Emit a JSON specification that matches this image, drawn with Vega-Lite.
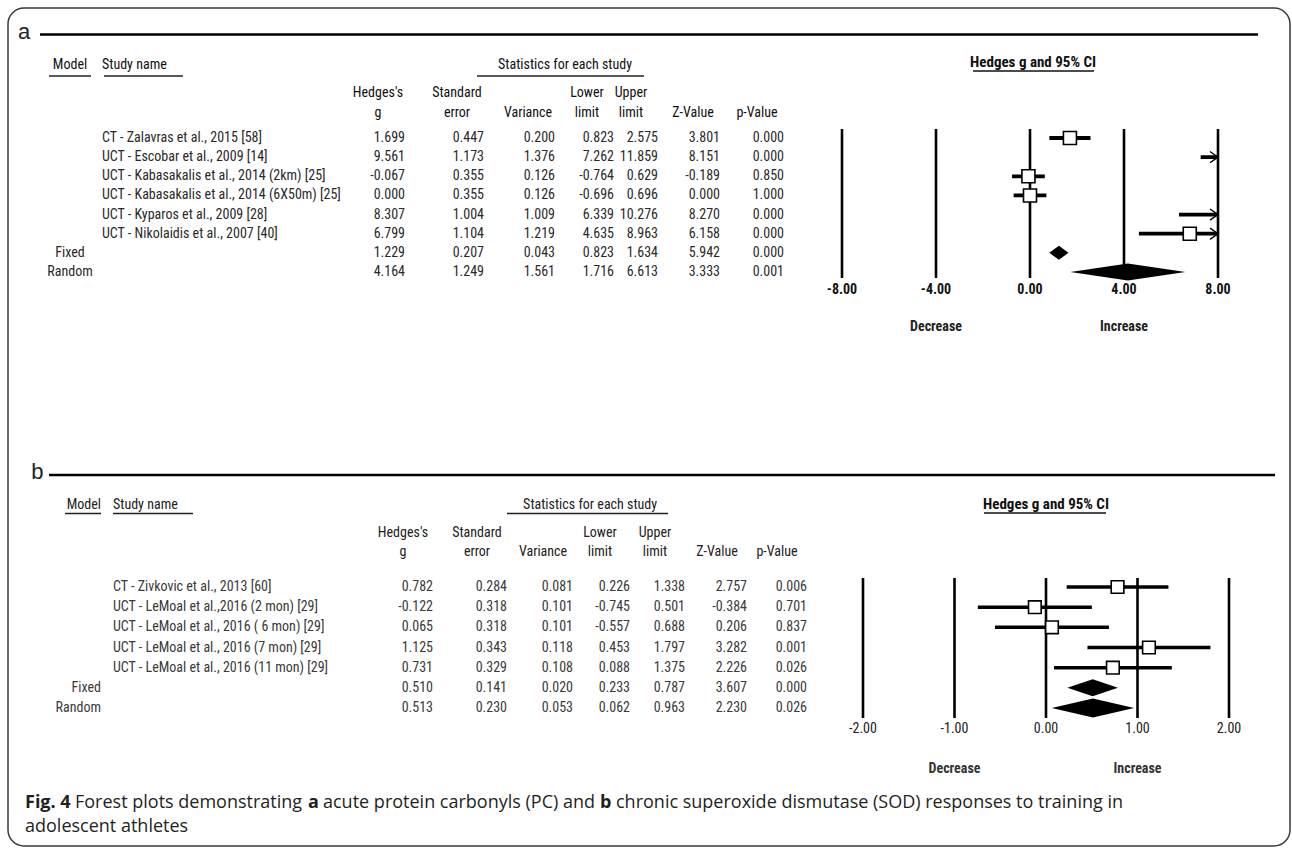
{
  "$schema": "https://vega.github.io/schema/vega-lite/v6.json",
  "width": 1282,
  "height": 838,
  "autosize": {"type": "none"},
  "padding": {"left": 8, "top": 8, "right": 2, "bottom": 2},
  "background": "white",
  "datasets": {
    "pcA": [
      {"row": 1, "model": "", "study": "CT - Zalavras et al., 2015 [58]", "g": 1.699, "se": 0.447, "var": 0.200, "lo": 0.823, "hi": 2.575, "z": 3.801, "p": 0.000},
      {"row": 2, "model": "", "study": "UCT - Escobar et al., 2009 [14]", "g": 9.561, "se": 1.173, "var": 1.376, "lo": 7.262, "hi": 11.859, "z": 8.151, "p": 0.000},
      {"row": 3, "model": "", "study": "UCT - Kabasakalis et al., 2014 (2km) [25]", "g": -0.067, "se": 0.355, "var": 0.126, "lo": -0.764, "hi": 0.629, "z": -0.189, "p": 0.850},
      {"row": 4, "model": "", "study": "UCT - Kabasakalis et al., 2014 (6X50m) [25]", "g": 0.000, "se": 0.355, "var": 0.126, "lo": -0.696, "hi": 0.696, "z": 0.000, "p": 1.000},
      {"row": 5, "model": "", "study": "UCT - Kyparos et al., 2009 [28]", "g": 8.307, "se": 1.004, "var": 1.009, "lo": 6.339, "hi": 10.276, "z": 8.270, "p": 0.000},
      {"row": 6, "model": "", "study": "UCT - Nikolaidis et al., 2007 [40]", "g": 6.799, "se": 1.104, "var": 1.219, "lo": 4.635, "hi": 8.963, "z": 6.158, "p": 0.000},
      {"row": 7, "model": "Fixed", "study": "", "g": 1.229, "se": 0.207, "var": 0.043, "lo": 0.823, "hi": 1.634, "z": 5.942, "p": 0.000},
      {"row": 8, "model": "Random", "study": "", "g": 4.164, "se": 1.249, "var": 1.561, "lo": 1.716, "hi": 6.613, "z": 3.333, "p": 0.001}
    ],
    "sodB": [
      {"row": 1, "model": "", "study": "CT - Zivkovic et al., 2013 [60]", "g": 0.782, "se": 0.284, "var": 0.081, "lo": 0.226, "hi": 1.338, "z": 2.757, "p": 0.006},
      {"row": 2, "model": "", "study": "UCT - LeMoal et al.,2016 (2 mon) [29]", "g": -0.122, "se": 0.318, "var": 0.101, "lo": -0.745, "hi": 0.501, "z": -0.384, "p": 0.701},
      {"row": 3, "model": "", "study": "UCT - LeMoal et al., 2016  ( 6 mon) [29]", "g": 0.065, "se": 0.318, "var": 0.101, "lo": -0.557, "hi": 0.688, "z": 0.206, "p": 0.837},
      {"row": 4, "model": "", "study": "UCT - LeMoal et al., 2016 (7 mon) [29]", "g": 1.125, "se": 0.343, "var": 0.118, "lo": 0.453, "hi": 1.797, "z": 3.282, "p": 0.001},
      {"row": 5, "model": "", "study": "UCT - LeMoal et al., 2016 (11 mon) [29]", "g": 0.731, "se": 0.329, "var": 0.108, "lo": 0.088, "hi": 1.375, "z": 2.226, "p": 0.026},
      {"row": 6, "model": "Fixed", "study": "", "g": 0.510, "se": 0.141, "var": 0.020, "lo": 0.233, "hi": 0.787, "z": 3.607, "p": 0.000},
      {"row": 7, "model": "Random", "study": "", "g": 0.513, "se": 0.230, "var": 0.053, "lo": 0.062, "hi": 0.963, "z": 2.230, "p": 0.026}
    ],
    "cols": [
      {"col": 1, "l1": "Hedges's", "l2": "g"},
      {"col": 2, "l1": "Standard", "l2": "error"},
      {"col": 3, "l1": "", "l2": "Variance"},
      {"col": 4, "l1": "Lower", "l2": "limit"},
      {"col": 5, "l1": "Upper", "l2": "limit"},
      {"col": 6, "l1": "", "l2": "Z-Value"},
      {"col": 7, "l1": "", "l2": "p-Value"}
    ],
    "ticksA": [{"v": -8}, {"v": -4}, {"v": 0}, {"v": 4}, {"v": 8}],
    "ticksB": [{"v": -2}, {"v": -1}, {"v": 0}, {"v": 1}, {"v": 2}],
    "one": [{}]
  },
  "layer": [
    {
      "data": {"name": "pcA"},
      "layer": [
        {"mark": {"type": "text", "align": "left", "baseline": "middle"},
         "encoding": {
           "x": {"datum": 0, "type": "quantitative", "scale": {"domain": [-1, 0, 1, 2, 3, 4, 5, 6, 7], "range": [62, 94, 397, 476, 547, 606, 650, 712, 776], "zero": false, "nice": false}, "axis": null},
           "y": {"field": "row", "type": "quantitative", "scale": {"domain": [1, 8], "range": [130, 264], "zero": false, "nice": false}, "axis": null},
           "text": {"field": "study"}}},
        {"mark": {"type": "text", "align": "center", "baseline": "middle"},
         "encoding": {"x": {"datum": -1, "type": "quantitative", "axis": null}, "y": {"field": "row", "type": "quantitative", "axis": null}, "text": {"field": "model"}}},
        {"mark": {"type": "text", "align": "right", "baseline": "middle"},
         "encoding": {"x": {"datum": 1, "type": "quantitative", "axis": null}, "y": {"field": "row", "type": "quantitative", "axis": null}, "text": {"field": "g", "type": "quantitative", "format": ".3f"}}},
        {"mark": {"type": "text", "align": "right", "baseline": "middle"},
         "encoding": {"x": {"datum": 2, "type": "quantitative", "axis": null}, "y": {"field": "row", "type": "quantitative", "axis": null}, "text": {"field": "se", "type": "quantitative", "format": ".3f"}}},
        {"mark": {"type": "text", "align": "right", "baseline": "middle"},
         "encoding": {"x": {"datum": 3, "type": "quantitative", "axis": null}, "y": {"field": "row", "type": "quantitative", "axis": null}, "text": {"field": "var", "type": "quantitative", "format": ".3f"}}},
        {"mark": {"type": "text", "align": "right", "baseline": "middle"},
         "encoding": {"x": {"datum": 4, "type": "quantitative", "axis": null}, "y": {"field": "row", "type": "quantitative", "axis": null}, "text": {"field": "lo", "type": "quantitative", "format": ".3f"}}},
        {"mark": {"type": "text", "align": "right", "baseline": "middle"},
         "encoding": {"x": {"datum": 5, "type": "quantitative", "axis": null}, "y": {"field": "row", "type": "quantitative", "axis": null}, "text": {"field": "hi", "type": "quantitative", "format": ".3f"}}},
        {"mark": {"type": "text", "align": "right", "baseline": "middle"},
         "encoding": {"x": {"datum": 6, "type": "quantitative", "axis": null}, "y": {"field": "row", "type": "quantitative", "axis": null}, "text": {"field": "z", "type": "quantitative", "format": ".3f"}}},
        {"mark": {"type": "text", "align": "right", "baseline": "middle"},
         "encoding": {"x": {"datum": 7, "type": "quantitative", "axis": null}, "y": {"field": "row", "type": "quantitative", "axis": null}, "text": {"field": "p", "type": "quantitative", "format": ".3f"}}},
        {"data": {"name": "cols"},
         "mark": {"type": "text", "align": "center", "baseline": "middle", "dx": -27, "color": "#111"},
         "encoding": {"x": {"field": "col", "type": "quantitative", "axis": null}, "y": {"datum": -1.351, "type": "quantitative", "axis": null}, "text": {"field": "l1"}}},
        {"data": {"name": "cols"},
         "mark": {"type": "text", "align": "center", "baseline": "middle", "dx": -27, "color": "#111"},
         "encoding": {"x": {"field": "col", "type": "quantitative", "axis": null}, "y": {"datum": -0.332, "type": "quantitative", "axis": null}, "text": {"field": "l2"}}},
        {"data": {"name": "one"},
         "mark": {"type": "text", "align": "center", "baseline": "middle", "color": "#111"},
         "encoding": {"x": {"datum": -1, "type": "quantitative", "axis": null}, "y": {"datum": -2.814, "type": "quantitative", "axis": null}, "text": {"value": "Model"}}},
        {"data": {"name": "one"},
         "mark": {"type": "text", "align": "left", "baseline": "middle", "color": "#111"},
         "encoding": {"x": {"datum": 0, "type": "quantitative", "axis": null}, "y": {"datum": -2.814, "type": "quantitative", "axis": null}, "text": {"value": "Study name"}}},
        {"data": {"name": "one"},
         "mark": {"type": "text", "align": "center", "baseline": "middle", "color": "#111"},
         "encoding": {"x": {"datum": 3.17, "type": "quantitative", "axis": null}, "y": {"datum": -2.814, "type": "quantitative", "axis": null}, "text": {"value": "Statistics for each study"}}},
        {"data": {"name": "one"},
         "mark": {"type": "rule", "strokeWidth": 1.4, "color": "#222"},
         "encoding": {"x": {"datum": -1.656, "type": "quantitative", "axis": null}, "x2": {"datum": -0.344}, "y": {"datum": -2.239, "type": "quantitative", "axis": null}}},
        {"data": {"name": "one"},
         "mark": {"type": "rule", "strokeWidth": 1.4, "color": "#222"},
         "encoding": {"x": {"datum": 0.0066, "type": "quantitative", "axis": null}, "x2": {"datum": 0.267}, "y": {"datum": -2.239, "type": "quantitative", "axis": null}}},
        {"data": {"name": "one"},
         "mark": {"type": "rule", "strokeWidth": 1.4, "color": "#222"},
         "encoding": {"x": {"datum": 1.911, "type": "quantitative", "axis": null}, "x2": {"datum": 4.682}, "y": {"datum": -2.239, "type": "quantitative", "axis": null}}}
      ]
    },
    {
      "data": {"name": "pcA"},
      "layer": [
        {"data": {"name": "ticksA"},
         "mark": {"type": "rule", "strokeWidth": 2.6, "color": "#000"},
         "encoding": {
           "x": {"field": "v", "type": "quantitative", "scale": {"domain": [-8, 8], "range": [834, 1210], "clamp": true, "zero": false, "nice": false}, "axis": null},
           "y": {"datum": 0.53, "type": "quantitative", "scale": {"domain": [1, 8], "range": [130, 264], "zero": false, "nice": false}, "axis": null},
           "y2": {"datum": 8.314}}},
        {"data": {"name": "ticksA"},
         "mark": {"type": "text", "align": "center", "baseline": "middle", "fontSize": 14, "fontWeight": "bold", "color": "#111"},
         "encoding": {
           "x": {"field": "v", "type": "quantitative", "axis": null},
           "y": {"datum": 8.915, "type": "quantitative", "axis": null},
           "text": {"field": "v", "type": "quantitative", "format": ".2f"}}},
        {"transform": [{"filter": "datum.model == ''"}],
         "mark": {"type": "rule", "strokeWidth": 3.8, "color": "#000"},
         "encoding": {"x": {"field": "lo", "type": "quantitative", "axis": null}, "x2": {"field": "hi"}, "y": {"field": "row", "type": "quantitative", "axis": null}}},
        {"transform": [{"filter": "datum.hi > 8"}],
         "mark": {"type": "point", "shape": "M-1,-0.7L0,0L-1,0.7", "filled": false, "color": "#000", "strokeWidth": 1.4, "size": 256, "opacity": 1},
         "encoding": {"x": {"field": "hi", "type": "quantitative", "axis": null}, "y": {"field": "row", "type": "quantitative", "axis": null}}},
        {"transform": [{"filter": "datum.model == '' && datum.g >= -8 && datum.g <= 8"}],
         "mark": {"type": "point", "shape": "square", "filled": true, "fill": "#fff", "stroke": "#000", "strokeWidth": 1.6, "size": 169, "opacity": 1},
         "encoding": {"x": {"field": "g", "type": "quantitative", "axis": null}, "y": {"field": "row", "type": "quantitative", "axis": null}}},
        {"transform": [{"filter": "datum.model != ''"}],
         "mark": {"type": "point", "filled": true, "color": "#000", "opacity": 1, "strokeWidth": 0},
         "encoding": {
           "x": {"field": "g", "type": "quantitative", "axis": null},
           "y": {"field": "row", "type": "quantitative", "axis": null},
           "size": {"field": "se", "type": "quantitative", "scale": {"type": "pow", "exponent": 2, "domain": [0, 1], "range": [0, 8486], "nice": false}, "legend": null},
           "shape": {"field": "model", "type": "nominal", "scale": {"domain": ["Fixed", "Random"], "range": ["M-1,0L0,-0.734L1,0L0,0.734Z", "M-1,0L0,-0.148L1,0L0,0.148Z"]}, "legend": null}}},
        {"data": {"name": "one"},
         "mark": {"type": "text", "align": "center", "baseline": "middle", "fontSize": 15, "fontWeight": "bold", "color": "#111"},
         "encoding": {"x": {"datum": 0.13, "type": "quantitative", "axis": null}, "y": {"datum": -2.97, "type": "quantitative", "axis": null}, "text": {"value": "Hedges g and 95% CI"}}},
        {"data": {"name": "one"},
         "mark": {"type": "rule", "strokeWidth": 1.4, "color": "#111"},
         "encoding": {"x": {"datum": -2.426, "type": "quantitative", "axis": null}, "x2": {"datum": 2.723}, "y": {"datum": -2.5, "type": "quantitative", "axis": null}}},
        {"data": {"name": "one"},
         "mark": {"type": "text", "align": "center", "baseline": "middle", "fontSize": 14, "fontWeight": "bold", "color": "#222"},
         "encoding": {"x": {"datum": -4, "type": "quantitative", "axis": null}, "y": {"datum": 10.874, "type": "quantitative", "axis": null}, "text": {"value": "Decrease"}}},
        {"data": {"name": "one"},
         "mark": {"type": "text", "align": "center", "baseline": "middle", "fontSize": 14, "fontWeight": "bold", "color": "#222"},
         "encoding": {"x": {"datum": 4, "type": "quantitative", "axis": null}, "y": {"datum": 10.874, "type": "quantitative", "axis": null}, "text": {"value": "Increase"}}}
      ]
    },
    {
      "data": {"name": "sodB"},
      "layer": [
        {"mark": {"type": "text", "align": "left", "baseline": "middle", "color": "#3a3a3a"},
         "encoding": {
           "x": {"datum": 0, "type": "quantitative", "scale": {"domain": [-1, 0, 1, 2, 3, 4, 5, 6, 7], "range": [93, 105, 425, 499, 565, 622, 677, 739, 799], "zero": false, "nice": false}, "axis": null},
           "y": {"field": "row", "type": "quantitative", "scale": {"domain": [1, 7], "range": [579, 700], "zero": false, "nice": false}, "axis": null},
           "text": {"field": "study"}}},
        {"mark": {"type": "text", "align": "right", "baseline": "middle", "color": "#3a3a3a"},
         "encoding": {"x": {"datum": -1, "type": "quantitative", "axis": null}, "y": {"field": "row", "type": "quantitative", "axis": null}, "text": {"field": "model"}}},
        {"mark": {"type": "text", "align": "right", "baseline": "middle", "color": "#3a3a3a"},
         "encoding": {"x": {"datum": 1, "type": "quantitative", "axis": null}, "y": {"field": "row", "type": "quantitative", "axis": null}, "text": {"field": "g", "type": "quantitative", "format": ".3f"}}},
        {"mark": {"type": "text", "align": "right", "baseline": "middle", "color": "#3a3a3a"},
         "encoding": {"x": {"datum": 2, "type": "quantitative", "axis": null}, "y": {"field": "row", "type": "quantitative", "axis": null}, "text": {"field": "se", "type": "quantitative", "format": ".3f"}}},
        {"mark": {"type": "text", "align": "right", "baseline": "middle", "color": "#3a3a3a"},
         "encoding": {"x": {"datum": 3, "type": "quantitative", "axis": null}, "y": {"field": "row", "type": "quantitative", "axis": null}, "text": {"field": "var", "type": "quantitative", "format": ".3f"}}},
        {"mark": {"type": "text", "align": "right", "baseline": "middle", "color": "#3a3a3a"},
         "encoding": {"x": {"datum": 4, "type": "quantitative", "axis": null}, "y": {"field": "row", "type": "quantitative", "axis": null}, "text": {"field": "lo", "type": "quantitative", "format": ".3f"}}},
        {"mark": {"type": "text", "align": "right", "baseline": "middle", "color": "#3a3a3a"},
         "encoding": {"x": {"datum": 5, "type": "quantitative", "axis": null}, "y": {"field": "row", "type": "quantitative", "axis": null}, "text": {"field": "hi", "type": "quantitative", "format": ".3f"}}},
        {"mark": {"type": "text", "align": "right", "baseline": "middle", "color": "#3a3a3a"},
         "encoding": {"x": {"datum": 6, "type": "quantitative", "axis": null}, "y": {"field": "row", "type": "quantitative", "axis": null}, "text": {"field": "z", "type": "quantitative", "format": ".3f"}}},
        {"mark": {"type": "text", "align": "right", "baseline": "middle", "color": "#3a3a3a"},
         "encoding": {"x": {"datum": 7, "type": "quantitative", "axis": null}, "y": {"field": "row", "type": "quantitative", "axis": null}, "text": {"field": "p", "type": "quantitative", "format": ".3f"}}},
        {"data": {"name": "cols"},
         "mark": {"type": "text", "align": "center", "baseline": "middle", "dx": -30, "color": "#222"},
         "encoding": {"x": {"field": "col", "type": "quantitative", "axis": null}, "y": {"datum": -1.678, "type": "quantitative", "axis": null}, "text": {"field": "l1"}}},
        {"data": {"name": "cols"},
         "mark": {"type": "text", "align": "center", "baseline": "middle", "dx": -30, "color": "#222"},
         "encoding": {"x": {"field": "col", "type": "quantitative", "axis": null}, "y": {"datum": -0.736, "type": "quantitative", "axis": null}, "text": {"field": "l2"}}},
        {"data": {"name": "one"},
         "mark": {"type": "text", "align": "right", "baseline": "middle", "color": "#222"},
         "encoding": {"x": {"datum": -1, "type": "quantitative", "axis": null}, "y": {"datum": -3.066, "type": "quantitative", "axis": null}, "text": {"value": "Model"}}},
        {"data": {"name": "one"},
         "mark": {"type": "text", "align": "left", "baseline": "middle", "color": "#222"},
         "encoding": {"x": {"datum": 0, "type": "quantitative", "axis": null}, "y": {"datum": -3.066, "type": "quantitative", "axis": null}, "text": {"value": "Study name"}}},
        {"data": {"name": "one"},
         "mark": {"type": "text", "align": "center", "baseline": "middle", "color": "#222"},
         "encoding": {"x": {"datum": 3.3, "type": "quantitative", "axis": null}, "y": {"datum": -3.066, "type": "quantitative", "axis": null}, "text": {"value": "Statistics for each study"}}},
        {"data": {"name": "one"},
         "mark": {"type": "rule", "strokeWidth": 1.4, "color": "#222"},
         "encoding": {"x": {"datum": -4.0, "type": "quantitative", "axis": null}, "x2": {"datum": -1}, "y": {"datum": -2.645, "type": "quantitative", "axis": null}}},
        {"data": {"name": "one"},
         "mark": {"type": "rule", "strokeWidth": 1.4, "color": "#222"},
         "encoding": {"x": {"datum": 0, "type": "quantitative", "axis": null}, "x2": {"datum": 0.25}, "y": {"datum": -2.645, "type": "quantitative", "axis": null}}},
        {"data": {"name": "one"},
         "mark": {"type": "rule", "strokeWidth": 1.4, "color": "#222"},
         "encoding": {"x": {"datum": 2.0, "type": "quantitative", "axis": null}, "x2": {"datum": 4.69}, "y": {"datum": -2.645, "type": "quantitative", "axis": null}}}
      ]
    },
    {
      "data": {"name": "sodB"},
      "layer": [
        {"data": {"name": "ticksB"},
         "mark": {"type": "rule", "strokeWidth": 2.6, "color": "#000"},
         "encoding": {
           "x": {"field": "v", "type": "quantitative", "scale": {"domain": [-2, 2], "range": [855, 1221], "clamp": true, "zero": false, "nice": false}, "axis": null},
           "y": {"datum": 0.554, "type": "quantitative", "scale": {"domain": [1, 7], "range": [579, 700], "zero": false, "nice": false}, "axis": null},
           "y2": {"datum": 7.496}}},
        {"data": {"name": "ticksB"},
         "mark": {"type": "text", "align": "center", "baseline": "middle", "fontSize": 14, "color": "#222"},
         "encoding": {
           "x": {"field": "v", "type": "quantitative", "axis": null},
           "y": {"datum": 8.041, "type": "quantitative", "axis": null},
           "text": {"field": "v", "type": "quantitative", "format": ".2f"}}},
        {"transform": [{"filter": "datum.model == ''"}],
         "mark": {"type": "rule", "strokeWidth": 3.5, "color": "#000"},
         "encoding": {"x": {"field": "lo", "type": "quantitative", "axis": null}, "x2": {"field": "hi"}, "y": {"field": "row", "type": "quantitative", "axis": null}}},
        {"transform": [{"filter": "datum.model == '' && datum.g >= -2 && datum.g <= 2"}],
         "mark": {"type": "point", "shape": "square", "filled": true, "fill": "#fff", "stroke": "#000", "strokeWidth": 1.6, "size": 160, "opacity": 1},
         "encoding": {"x": {"field": "g", "type": "quantitative", "axis": null}, "y": {"field": "row", "type": "quantitative", "axis": null}}},
        {"transform": [{"filter": "datum.model != ''"}],
         "mark": {"type": "point", "filled": true, "color": "#000", "opacity": 1, "strokeWidth": 0},
         "encoding": {
           "x": {"field": "g", "type": "quantitative", "axis": null},
           "y": {"field": "row", "type": "quantitative", "axis": null},
           "size": {"field": "se", "type": "quantitative", "scale": {"type": "pow", "exponent": 2, "domain": [0, 1], "range": [0, 128651], "nice": false}, "legend": null},
           "shape": {"field": "model", "type": "nominal", "scale": {"domain": ["Fixed", "Random"], "range": ["M-1,0L0,-0.336L1,0L0,0.336Z", "M-1,0L0,-0.23L1,0L0,0.23Z"]}, "legend": null}}},
        {"data": {"name": "one"},
         "mark": {"type": "text", "align": "center", "baseline": "middle", "fontSize": 15, "fontWeight": "bold", "color": "#111"},
         "encoding": {"x": {"datum": 0, "type": "quantitative", "axis": null}, "y": {"datum": -3.116, "type": "quantitative", "axis": null}, "text": {"value": "Hedges g and 95% CI"}}},
        {"data": {"name": "one"},
         "mark": {"type": "rule", "strokeWidth": 1.4, "color": "#111"},
         "encoding": {"x": {"datum": -0.678, "type": "quantitative", "axis": null}, "x2": {"datum": 0.656}, "y": {"datum": -2.669, "type": "quantitative", "axis": null}}},
        {"data": {"name": "one"},
         "mark": {"type": "text", "align": "center", "baseline": "middle", "fontSize": 14, "fontWeight": "bold", "color": "#333"},
         "encoding": {"x": {"datum": -1, "type": "quantitative", "axis": null}, "y": {"datum": 10.025, "type": "quantitative", "axis": null}, "text": {"value": "Decrease"}}},
        {"data": {"name": "one"},
         "mark": {"type": "text", "align": "center", "baseline": "middle", "fontSize": 14, "fontWeight": "bold", "color": "#333"},
         "encoding": {"x": {"datum": 1, "type": "quantitative", "axis": null}, "y": {"datum": 10.025, "type": "quantitative", "axis": null}, "text": {"value": "Increase"}}}
      ]
    },
    {
      "data": {"name": "one"},
      "layer": [
        {"mark": {"type": "text", "font": "Liberation Sans", "fontSize": 22, "align": "center", "baseline": "alphabetic", "color": "#222"},
         "encoding": {
           "x": {"datum": 0.0125, "type": "quantitative", "scale": {"domain": [0, 1], "range": [0, 1282], "zero": false, "nice": false}, "axis": null},
           "y": {"datum": 0.0364, "type": "quantitative", "scale": {"domain": [0, 1], "range": [0, 838], "zero": false, "nice": false}, "axis": null},
           "text": {"value": "a"}}},
        {"mark": {"type": "rule", "strokeWidth": 2.6, "color": "#000"},
         "encoding": {"x": {"datum": 0.02496, "type": "quantitative", "axis": null}, "x2": {"datum": 0.97504}, "y": {"datum": 0.03162, "type": "quantitative", "axis": null}}},
        {"mark": {"type": "text", "font": "Liberation Sans", "fontSize": 22, "align": "center", "baseline": "alphabetic", "color": "#222"},
         "encoding": {"x": {"datum": 0.02301, "type": "quantitative", "axis": null}, "y": {"datum": 0.56205, "type": "quantitative", "axis": null}, "text": {"value": "b"}}},
        {"mark": {"type": "rule", "strokeWidth": 2.6, "color": "#000"},
         "encoding": {"x": {"datum": 0.03198, "type": "quantitative", "axis": null}, "x2": {"datum": 0.9883}, "y": {"datum": 0.55728, "type": "quantitative", "axis": null}}},
        {"mark": {"type": "text", "font": "Open Sans", "fontSize": 18, "fontWeight": "bold", "align": "left", "baseline": "alphabetic", "color": "#231f20"},
         "encoding": {"x": {"datum": 0.01326, "type": "quantitative", "axis": null}, "y": {"datum": 0.95465, "type": "quantitative", "axis": null}, "text": {"value": "Fig. 4"}}},
        {"mark": {"type": "text", "font": "Open Sans", "fontSize": 18, "align": "left", "baseline": "alphabetic", "color": "#231f20"},
         "encoding": {"x": {"datum": 0.05226, "type": "quantitative", "axis": null}, "y": {"datum": 0.95465, "type": "quantitative", "axis": null}, "text": {"value": "Forest plots demonstrating"}}},
        {"mark": {"type": "text", "font": "Open Sans", "fontSize": 18, "fontWeight": "bold", "align": "left", "baseline": "alphabetic", "color": "#231f20"},
         "encoding": {"x": {"datum": 0.23401, "type": "quantitative", "axis": null}, "y": {"datum": 0.95465, "type": "quantitative", "axis": null}, "text": {"value": "a"}}},
        {"mark": {"type": "text", "font": "Open Sans", "fontSize": 18, "align": "left", "baseline": "alphabetic", "color": "#231f20"},
         "encoding": {"x": {"datum": 0.24571, "type": "quantitative", "axis": null}, "y": {"datum": 0.95465, "type": "quantitative", "axis": null}, "text": {"value": "acute protein carbonyls (PC) and"}}},
        {"mark": {"type": "text", "font": "Open Sans", "fontSize": 18, "fontWeight": "bold", "align": "left", "baseline": "alphabetic", "color": "#231f20"},
         "encoding": {"x": {"datum": 0.46178, "type": "quantitative", "axis": null}, "y": {"datum": 0.95465, "type": "quantitative", "axis": null}, "text": {"value": "b"}}},
        {"mark": {"type": "text", "font": "Open Sans", "fontSize": 18, "align": "left", "baseline": "alphabetic", "color": "#231f20"},
         "encoding": {"x": {"datum": 0.47426, "type": "quantitative", "axis": null}, "y": {"datum": 0.95465, "type": "quantitative", "axis": null}, "text": {"value": "chronic superoxide dismutase (SOD) responses to training in"}}},
        {"mark": {"type": "text", "font": "Open Sans", "fontSize": 18, "align": "left", "baseline": "alphabetic", "color": "#231f20"},
         "encoding": {"x": {"datum": 0.01326, "type": "quantitative", "axis": null}, "y": {"datum": 0.98329, "type": "quantitative", "axis": null}, "text": {"value": "adolescent athletes"}}}
      ]
    }
  ],
  "resolve": {"scale": {"x": "independent", "y": "independent", "size": "independent", "shape": "independent"}},
  "config": {
    "view": {"stroke": "#3a3a3a", "strokeWidth": 1.5, "cornerRadius": 16, "fill": "white"},
    "locale": {"number": {"decimal": ".", "thousands": ",", "grouping": [3], "currency": ["$", ""], "minus": "-"}},
    "text": {"font": "Liberation Sans Narrow, Arial Narrow, Roboto Condensed, DejaVu Sans Condensed, Liberation Sans, sans-serif", "fontSize": 14, "color": "#2a2a2a"}
  }
}
